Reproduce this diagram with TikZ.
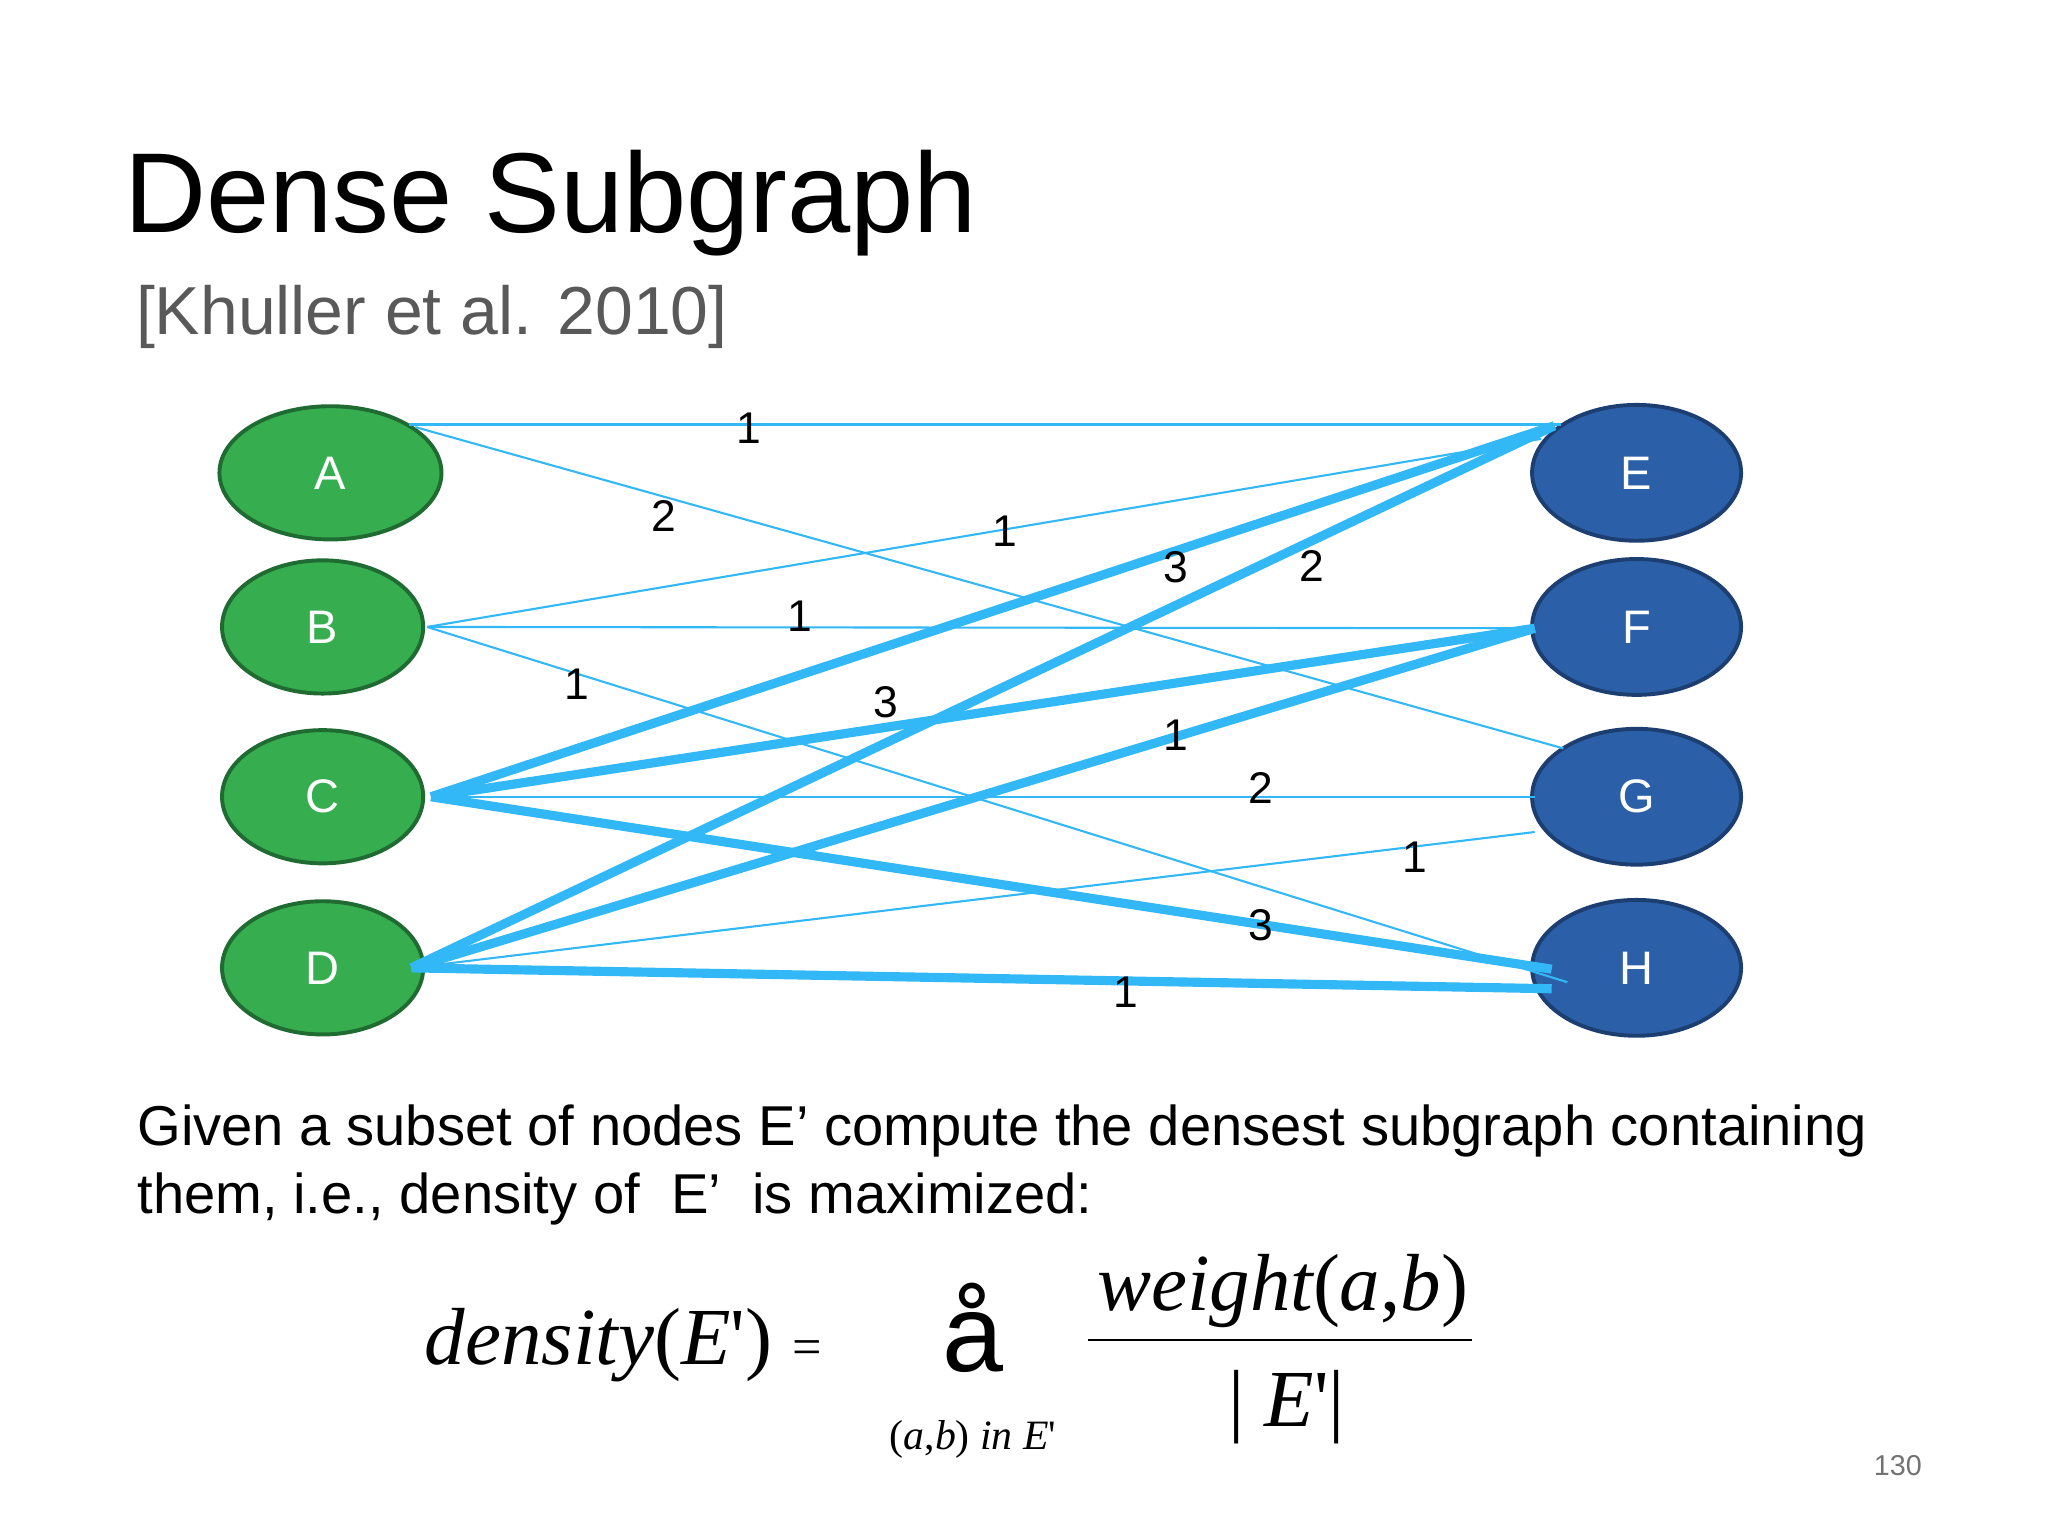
\documentclass[tikz,border=0pt]{standalone}
\usepackage{fontspec}
\setmainfont{Liberation Sans}
\newfontfamily\tms{Liberation Serif}
\usetikzlibrary{shapes.geometric}
\definecolor{gfill}{HTML}{36AE50}
\definecolor{gdraw}{HTML}{1F6B32}
\definecolor{bfill}{HTML}{2B60A8}
\definecolor{bdraw}{HTML}{1C3E70}
\definecolor{edge}{HTML}{33B8F7}
\tikzset{
 gnode/.style={ellipse,fill=gfill,draw=gdraw,line width=3pt,minimum width=154pt,minimum height=102pt,text=white,font=\fontsize{36}{36}\selectfont},
 bnode/.style={ellipse,fill=bfill,draw=bdraw,line width=3pt,minimum width=156pt,minimum height=104pt,text=white,font=\fontsize{36}{36}\selectfont},
 thin/.style={draw=edge,line width=1.6pt},
 thick/.style={draw=edge,line width=7pt},
 wl/.style={font=\fontsize{34}{34}\selectfont,inner sep=0pt}
}
\begin{document}
\begin{tikzpicture}[x=1pt,y=-1pt]
\useasboundingbox[fill=white] (0,0) rectangle (1568,1176);
\node[anchor=base west,inner sep=0pt,font=\fontsize{87}{87}\selectfont] (t) at (95,178) {Dense Subgraph};
\node[anchor=base west,inner sep=0pt,text=black!65,font=\fontsize{52}{52}\selectfont] (st) at (104,256) {[Khuller et al. 2010]};
\node[gnode,minimum width=170pt] (A) at (253,362) {A};
\node[gnode] (B) at (247,480) {B};
\node[gnode] (C) at (247,610) {C};
\node[gnode] (D) at (247,741) {D};
\node[bnode,minimum width=160pt] (E) at (1253,362) {E};
\node[bnode,minimum width=160pt] (F) at (1253,480) {F};
\node[bnode,minimum width=160pt] (G) at (1253,610) {G};
\node[bnode,minimum width=160pt] (H) at (1253,741) {H};
\coordinate (a1) at (313,325); \coordinate (a2) at (318,327);
\coordinate (b1) at (327,480);
\coordinate (c1) at (330,610);
\coordinate (d1) at (315,741);
\coordinate (e1) at (1195,325); \coordinate (e2) at (1180,336); \coordinate (e3) at (1190,326);
\coordinate (f1) at (1175,481);
\coordinate (g1) at (1197,573); \coordinate (g2) at (1175,610); \coordinate (g3) at (1175,637);
\coordinate (h1) at (1200,752); \coordinate (h2) at (1188,742); \coordinate (h3) at (1188,757);
\draw[thin] (a1) -- (e1);
\draw[thin] (a2) -- (g1);
\draw[thin] (b1) -- (e2);
\draw[thin] (b1) -- (f1);
\draw[thin] (b1) -- (h1);
\draw[thin] (c1) -- (g2);
\draw[thin] (d1) -- (g3);
\draw[thick] (c1) -- (e3);
\draw[thick] (d1) -- (e3);
\draw[thick] (c1) -- (f1);
\draw[thick] (d1) -- (f1);
\draw[thick] (c1) -- (h2);
\draw[thick] (d1) -- (h3);
\node[wl] (l1) at (573,328) {1};
\node[wl] (l2) at (508,395) {2};
\node[wl] (l3) at (769,407) {1};
\node[wl] (l4) at (612,472) {1};
\node[wl] (l5) at (442,524) {1};
\node[wl] (l6) at (900,434) {3};
\node[wl] (l7) at (1004,433) {2};
\node[wl] (l8) at (678,538) {3};
\node[wl] (l9) at (900,563) {1};
\node[wl] (l10) at (965,603) {2};
\node[wl] (l11) at (1083,656) {1};
\node[wl] (l12) at (965,708) {3};
\node[wl] (l13) at (862,760) {1};
\node[anchor=base west,inner sep=0pt,font=\fontsize{43}{43}\selectfont] (p1) at (105,877) {Given a subset of nodes E’ compute the densest subgraph containing};
\node[anchor=base west,inner sep=0pt,font=\fontsize{43}{43}\selectfont] (p2) at (105,929) {them, i.e., density of\ \ E’\ \ is maximized:};
\node[anchor=base west,inner sep=0pt,font=\tms\itshape\fontsize{62}{62}\selectfont] (f1t) at (325,1045) {density\upshape(\itshape E\upshape')\ \fontsize{40}{40}\selectfont=};
\node[anchor=base,inner sep=0pt,font=\fontsize{84}{84}\selectfont] (sum) at (745,1050) {å};
\node[anchor=base,inner sep=0pt,font=\tms\itshape\fontsize{32}{32}\selectfont] (sub) at (745,1110) {\upshape(\itshape a\upshape,\itshape b\upshape)\itshape\ in E\upshape'};
\node[anchor=base,inner sep=0pt,font=\tms\itshape\fontsize{62}{62}\selectfont] (num) at (982,1003) {weight\upshape(\itshape a\upshape,\itshape b\upshape)};
\coordinate (fl) at (833,1026); \coordinate (fr) at (1127,1026);
\draw[line width=2pt] (fl) -- (fr);
\node[anchor=base,inner sep=0pt,font=\tms\itshape\fontsize{62}{62}\selectfont] (den) at (985,1092) {\upshape|\itshape\ E\upshape'|};
\node[anchor=base,inner sep=0pt,text=black!55,font=\fontsize{22}{22}\selectfont] (pg) at (1453,1130) {130};
\end{tikzpicture}
\end{document}
